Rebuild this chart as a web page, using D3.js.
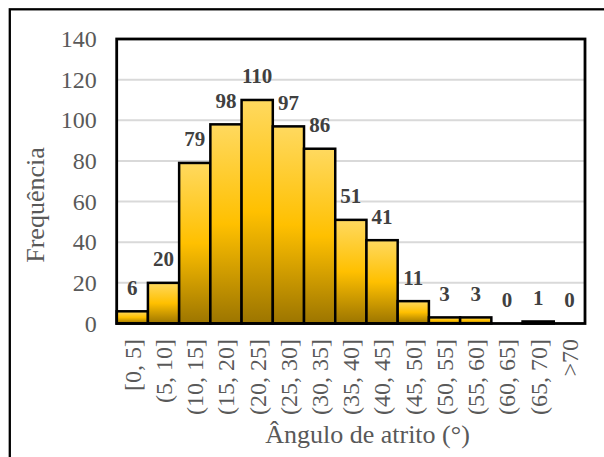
<!DOCTYPE html>
<html>
<head>
<meta charset="utf-8">
<script src="https://cdn.jsdelivr.net/npm/d3@7"></script>
<style>
  html, body { margin: 0; padding: 0; background: #fff; }
  svg { display: block; }
</style>
</head>
<body>
<svg id="chart" width="604" height="457"></svg>
<script>
const categories = ["[0, 5]", "(5, 10]", "(10, 15]", "(15, 20]", "(20, 25]", "(25, 30]", "(30, 35]", "(35, 40]", "(40, 45]", "(45, 50]", "(50, 55]", "(55, 60]", "(60, 65]", "(65, 70]", ">70"];
const values = [6, 20, 79, 98, 110, 97, 86, 51, 41, 11, 3, 3, 0, 1, 0];
const yTicks = [0, 20, 40, 60, 80, 100, 120, 140];
const yTitle = "Frequência";
const xTitle = "Ângulo de atrito (°)";

const svg = d3.select("#chart");
const font = "'Liberation Serif', 'Times New Roman', serif";
const plot = { left: 116.7, right: 585, top: 39, bottom: 323.5 };

const x = d3.scaleBand().domain(categories).range([plot.left, plot.right]).padding(0);
const y = d3.scaleLinear().domain([0, 140]).range([plot.bottom, plot.top]);

// gradient
const defs = svg.append("defs");
const grad = defs.append("linearGradient").attr("id", "gold").attr("x1", 0).attr("y1", 0).attr("x2", 0).attr("y2", 1);
grad.append("stop").attr("offset", "0%").attr("stop-color", "#FFD95F");
grad.append("stop").attr("offset", "50%").attr("stop-color", "#FFC000");
grad.append("stop").attr("offset", "100%").attr("stop-color", "#9C7500");

// outer chart frame (cropped)
svg.append("rect").attr("x", 9.8).attr("y", 9.3).attr("width", 800).attr("height", 800)
  .attr("fill", "none").attr("stroke", "#000").attr("stroke-width", 2.3);

// gridlines
svg.append("g").selectAll("line").data(yTicks.filter(t => t > 0 && t < 140)).join("line")
  .attr("x1", plot.left).attr("x2", plot.right)
  .attr("y1", d => y(d)).attr("y2", d => y(d))
  .attr("stroke", "#D9D9D9").attr("stroke-width", 2);

// bars
svg.append("g").selectAll("rect").data(values.map((v, i) => ({ c: categories[i], v })).filter(d => d.v > 0)).join("rect")
  .attr("x", d => x(d.c)).attr("width", x.bandwidth())
  .attr("y", d => y(d.v)).attr("height", d => y(0) - y(d.v))
  .attr("fill", "url(#gold)").attr("stroke", "#000").attr("stroke-width", 2.5);

// plot border
svg.append("rect").attr("x", plot.left).attr("y", plot.top)
  .attr("width", plot.right - plot.left).attr("height", plot.bottom - plot.top)
  .attr("fill", "none").attr("stroke", "#000").attr("stroke-width", 2.8);

// value labels
svg.append("g").selectAll("text").data(values.map((v, i) => ({ c: categories[i], v }))).join("text")
  .attr("x", d => x(d.c) + x.bandwidth() / 2)
  .attr("y", d => y(d.v) - 16.5)
  .attr("text-anchor", "middle")
  .attr("font-family", font).attr("font-weight", "bold").attr("font-size", 21)
  .attr("fill", "#404040")
  .text(d => d.v);

// y axis
const yAxis = svg.append("g").attr("transform", `translate(${plot.left},0)`)
  .call(d3.axisLeft(y).tickValues(yTicks).tickSize(0).tickPadding(20));
yAxis.select(".domain").remove();
yAxis.selectAll("text").attr("font-family", font).attr("font-size", 24).attr("fill", "#595959");

// x axis
const xAxis = svg.append("g").attr("transform", `translate(0,${plot.bottom})`)
  .call(d3.axisBottom(x).tickSize(0));
xAxis.select(".domain").remove();
xAxis.selectAll("text")
  .attr("transform", "rotate(-90)")
  .attr("x", -15.5).attr("y", 0).attr("dy", "0.35em")
  .attr("text-anchor", "end")
  .attr("font-family", font).attr("font-size", 24).attr("fill", "#595959");

// axis titles
svg.append("text").attr("transform", "translate(44,205) rotate(-90)")
  .attr("text-anchor", "middle")
  .attr("font-family", font).attr("font-size", 26).attr("fill", "#595959")
  .text(yTitle);
svg.append("text").attr("x", 367.5).attr("y", 443)
  .attr("text-anchor", "middle")
  .attr("font-family", font).attr("font-size", 26).attr("fill", "#595959")
  .text(xTitle);
</script>
</body>
</html>
